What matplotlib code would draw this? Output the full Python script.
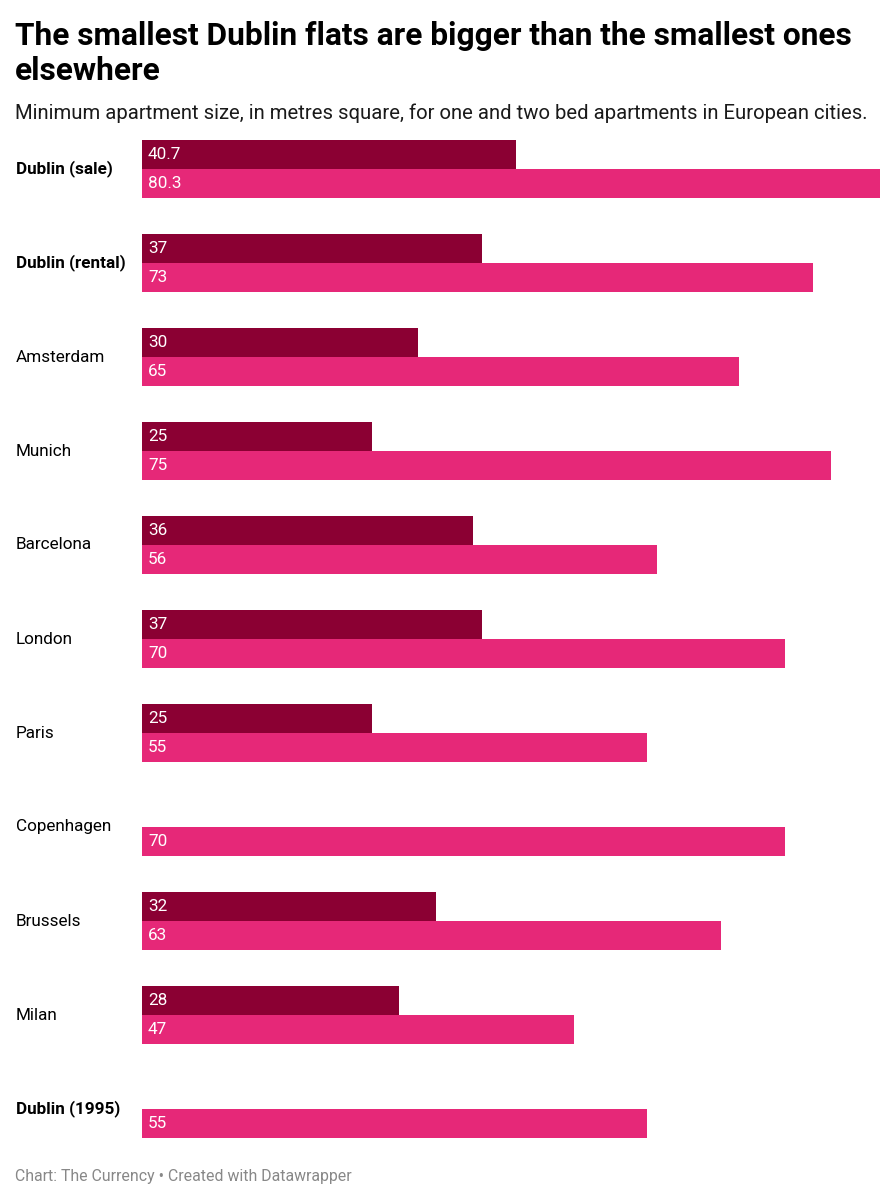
import numpy as np
import matplotlib
matplotlib.use("Agg")
import matplotlib.pyplot as plt
from matplotlib.transforms import offset_copy

plt.rcParams['font.family'] = ['Roboto', 'DejaVu Sans']

cities = ["Dublin (sale)", "Dublin (rental)", "Amsterdam", "Munich", "Barcelona",
          "London", "Paris", "Copenhagen", "Brussels", "Milan", "Dublin (1995)"]
bold_rows = ["Dublin (sale)", "Dublin (rental)", "Dublin (1995)"]
one_bed = [40.7, 37, 30, 25, 36, 37, 25, None, 32, 28, None]
two_bed = [80.3, 73, 65, 75, 56, 70, 55, 70, 63, 47, 55]
one_bed_labels = ["40.7", "37", "30", "25", "36", "37", "25", "", "32", "28", ""]
two_bed_labels = ["80.3", "73", "65", "75", "56", "70", "55", "70", "63", "47", "55"]

W, H = 896, 1200
fig = plt.figure(figsize=(W / 100, H / 100), dpi=100)

pitch = 94.0
bar_px = 29.0
top_px = 140.0
n = len(cities)
bottom_px = top_px + pitch * (n - 1) + 2 * bar_px
left_px, right_px = 142.0, 880.0

ax = fig.add_axes([left_px / W, 1 - bottom_px / H, (right_px - left_px) / W, (bottom_px - top_px) / H])
hb = bar_px / pitch
ax.set_xlim(0, 80.3)
ax.set_ylim((n - 1) + 2 * hb, 0)
ax.axis('off')

dark = "#8b0033"
pink = "#e62878"
y = np.arange(n)
ob = np.array([np.nan if v is None else v for v in one_bed], dtype=float)
tb = np.array(two_bed, dtype=float)
ax.barh(y + hb / 2, np.nan_to_num(ob), height=hb, color=dark, linewidth=0)
ax.barh(y + 1.5 * hb, tb, height=hb, color=pink, linewidth=0)

tr = offset_copy(ax.transData, fig=fig, x=6, y=0, units='dots')
for i in range(n):
    if one_bed_labels[i]:
        ax.text(0, y[i] + hb / 2, one_bed_labels[i], transform=tr, color="white",
                fontsize=12.3, va='center', ha='left')
    ax.text(0, y[i] + 1.5 * hb, two_bed_labels[i], transform=tr, color="white",
            fontsize=12.3, va='center', ha='left')

for i, c in enumerate(cities):
    cy = top_px + pitch * i + bar_px
    fig.text(16 / W, 1 - cy / H, c, fontsize=12.3, va='center', ha='left',
             fontweight='bold' if c in bold_rows else 'normal', color="#000000")

fig.text(15 / W, 1 - 45 / H, "The smallest Dublin flats are bigger than the smallest ones",
         fontsize=22.75, fontweight='bold', va='baseline', ha='left', color="#000000")
fig.text(15 / W, 1 - 80 / H, "elsewhere",
         fontsize=22.75, fontweight='bold', va='baseline', ha='left', color="#000000")
fig.text(15 / W, 1 - 119 / H,
         "Minimum apartment size, in metres square, for one and two bed apartments in European cities.",
         fontsize=14.6, va='baseline', ha='left', color="#1a1a1a")
fig.text(15 / W, 1 - 1181 / H, "Chart: The Currency • Created with Datawrapper",
         fontsize=11.4, va='baseline', ha='left', color="#888888")

fig.savefig("out.png", dpi=100, facecolor="white")
